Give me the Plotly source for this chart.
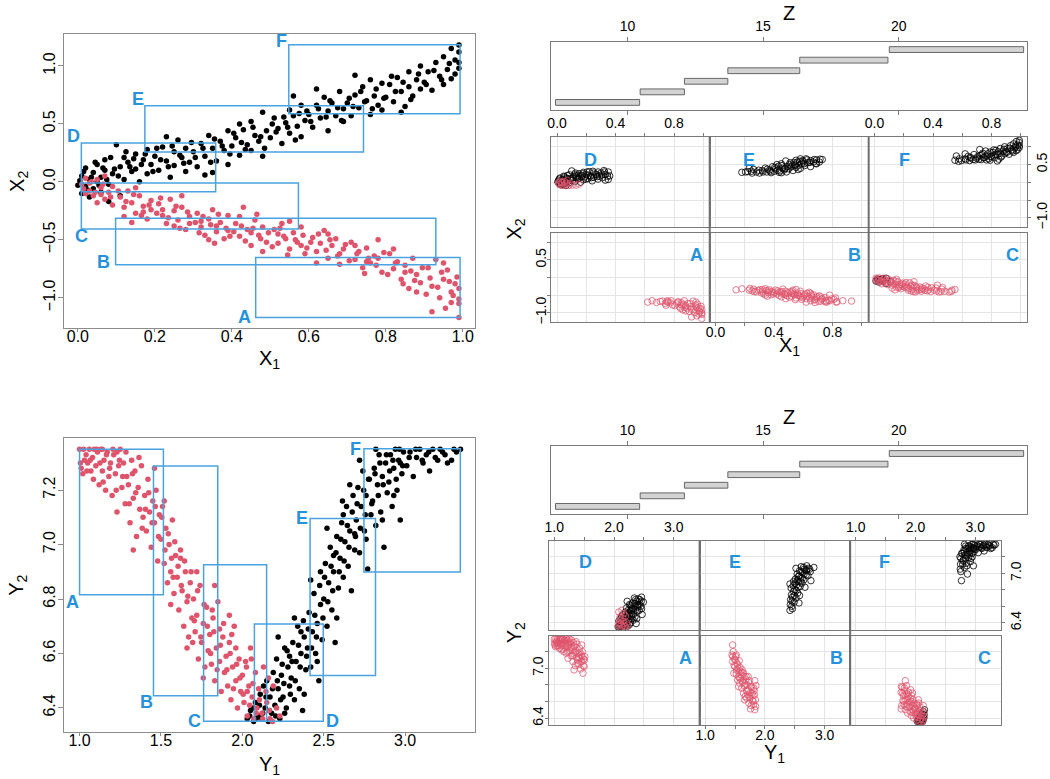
import plotly.graph_objects as go

# ---------------- data ----------------
x1_red = [0.01,0.02,0.03,0.04,0.05,0.06,0.07,0.08,0.09,0.02,0.05,0.07,0.09,0.03,0.06,
          0.11,0.12,0.13,0.14,0.15,0.16,0.17,0.18,0.19,0.12,0.15,0.17,0.19,0.14,
          0.21,0.22,0.23,0.24,0.25,0.26,0.27,0.28,0.29,0.22,0.25,0.27,0.29,
          0.31,0.32,0.33,0.34,0.35,0.36,0.37,0.38,0.39,0.32,0.34,0.36,0.39,
          0.41,0.42,0.43,0.44,0.45,0.46,0.47,0.48,0.49,0.42,0.45,0.48,
          0.51,0.52,0.53,0.54,0.55,0.56,0.57,0.58,0.59,0.52,0.55,0.58,
          0.61,0.62,0.63,0.64,0.65,0.66,0.67,0.68,0.69,0.62,0.65,0.68,
          0.71,0.72,0.73,0.74,0.75,0.76,0.77,0.78,0.79,0.72,0.75,0.78,
          0.81,0.82,0.83,0.84,0.85,0.86,0.87,0.88,0.89,0.82,0.85,0.88,
          0.91,0.92,0.93,0.94,0.95,0.96,0.97,0.98,0.99,0.92,0.95,0.97,0.99,0.99,
          0.015,0.035,0.045,0.065,0.085, 0.105,0.125,0.145,0.165,0.185,
          0.205,0.215,0.235,0.255,0.265, 0.285,0.305,0.315,0.325,0.345,
          0.355,0.365,0.385,0.395,0.405, 0.425,0.435,0.455,0.465,0.475,
          0.495,0.505,0.525,0.535,0.545, 0.565,0.585,0.595,0.605,0.625,
          0.645,0.655,0.675,0.695,0.705, 0.725,0.745,0.755,0.775,0.795,
          0.805,0.825,0.845,0.865,0.875, 0.895,0.905,0.915,0.935,0.945,
          0.955,0.965,0.975,0.985,0.990]
x2_red = [-0.02,0.03,-0.08,-0.12,0.02,-0.05,-0.15,-0.09,-0.04,-0.10,-0.18,0.05,-0.20,-0.01,-0.11,
          -0.13,-0.22,-0.08,-0.18,-0.27,-0.12,-0.21,-0.32,-0.16,-0.30,-0.05,-0.26,-0.24,-0.35,
          -0.19,-0.29,-0.36,-0.15,-0.25,-0.33,-0.22,-0.41,-0.30,-0.24,-0.38,-0.12,-0.36,
          -0.27,-0.39,-0.46,-0.32,-0.24,-0.43,-0.35,-0.49,-0.29,-0.34,-0.50,-0.38,-0.42,
          -0.36,-0.47,-0.22,-0.41,-0.55,-0.33,-0.46,-0.39,-0.52,-0.30,-0.44,-0.60,
          -0.41,-0.53,-0.36,-0.49,-0.58,-0.44,-0.52,-0.39,-0.62,-0.45,-0.34,-0.55,
          -0.48,-0.60,-0.53,-0.42,-0.66,-0.55,-0.49,-0.71,-0.58,-0.70,-0.45,-0.62,
          -0.52,-0.67,-0.60,-0.74,-0.57,-0.70,-0.64,-0.50,-0.78,-0.55,-0.69,-0.66,
          -0.62,-0.75,-0.69,-0.84,-0.72,-0.92,-0.66,-0.80,-0.87,-0.58,-0.78,-0.95,
          -0.74,-0.90,-0.67,-1.00,-0.84,-0.76,-0.95,-0.88,-1.05,-1.12,-0.70,-1.04,-1.17,-0.92,
          -0.06,0.00,-0.09,-0.02,-0.13, -0.08,-0.17,-0.11,-0.29,-0.20,
          -0.27,-0.14,-0.31,-0.21,-0.40, -0.26,-0.35,-0.44,-0.30,-0.37,
          -0.53,-0.28,-0.40,-0.47,-0.43, -0.38,-0.51,-0.40,-0.28,-0.49,
          -0.44,-0.56,-0.40,-0.47,-0.63, -0.50,-0.46,-0.57,-0.52,-0.45,
          -0.59,-0.50,-0.64,-0.54,-0.68, -0.62,-0.79,-0.66,-0.72,-0.61,
          -0.80,-0.70,-0.88,-0.77,-0.85, -0.74,-0.97,-0.83,-0.91,-0.78,
          -1.09,-0.86,-0.98,-0.82,-1.01]

x1_black = [0.00,0.01,0.01,0.02,0.02,0.03,0.03,0.04,0.04,0.05,0.05,0.06,0.06,0.07,0.07,0.08,0.09,0.08,
            0.10,0.11,0.12,0.12,0.13,0.14,0.15,0.15,0.16,0.17,0.18,0.18,0.19,0.11,
            0.20,0.21,0.22,0.23,0.24,0.25,0.25,0.26,0.27,0.28,0.28,0.29,0.23,
            0.30,0.31,0.32,0.33,0.34,0.35,0.35,0.36,0.37,0.38,0.39,0.39,0.33,
            0.40,0.41,0.42,0.43,0.44,0.45,0.45,0.46,0.47,0.48,0.48,0.49,0.42,
            0.50,0.51,0.52,0.53,0.54,0.55,0.55,0.56,0.57,0.58,0.58,0.59,0.56,
            0.60,0.61,0.62,0.63,0.64,0.65,0.65,0.66,0.67,0.68,0.69,0.69,0.62,
            0.70,0.71,0.72,0.73,0.74,0.75,0.76,0.76,0.77,0.78,0.79,0.79,0.72,
            0.80,0.81,0.82,0.83,0.84,0.85,0.86,0.86,0.87,0.88,0.89,0.89,0.84,
            0.90,0.91,0.92,0.93,0.94,0.95,0.95,0.96,0.97,0.98,0.98,0.99,0.99,0.99,0.99,0.97,
            0.005,0.015,0.025,0.035,0.045, 0.055,0.065,0.075,0.085,0.095,
            0.105,0.125,0.135,0.145,0.165, 0.175,0.195,0.205,0.215,0.235,
            0.245,0.265,0.275,0.295,0.305, 0.325,0.345,0.355,0.375,0.395,
            0.405,0.425,0.435,0.455,0.475, 0.485,0.505,0.515,0.535,0.545,
            0.565,0.575,0.595,0.605,0.625, 0.645,0.655,0.675,0.685,0.705,
            0.715,0.735,0.745,0.765,0.775, 0.795,0.815,0.825,0.845,0.865,
            0.885,0.905,0.925,0.945,0.965]
x2_black = [-0.03,0.05,-0.10,0.12,-0.04,0.02,-0.13,0.08,-0.06,0.15,0.00,0.04,-0.09,0.19,0.10,-0.02,0.07,-0.17,
            0.32,0.13,0.21,0.02,0.17,0.09,0.24,0.11,0.00,0.19,0.28,0.07,0.15,-0.12,
            0.22,0.10,0.30,0.18,0.04,0.26,0.14,0.36,0.21,0.09,0.29,0.17,0.39,
            0.26,0.13,0.33,0.22,0.40,0.29,0.08,0.18,0.35,0.27,0.44,0.15,0.06,
            0.31,0.38,0.23,0.45,0.32,0.52,0.27,0.40,0.35,0.60,0.22,0.44,0.50,
            0.38,0.55,0.46,0.33,0.51,0.62,0.42,0.57,0.48,0.66,0.39,0.53,0.74,
            0.58,0.47,0.66,0.55,0.73,0.61,0.44,0.68,0.57,0.78,0.63,0.52,0.80,
            0.68,0.57,0.75,0.64,0.82,0.70,0.58,0.88,0.74,0.66,0.85,0.62,0.92,
            0.73,0.84,0.69,0.90,0.78,0.65,0.95,0.82,0.74,0.88,0.80,1.00,0.60,
            0.86,0.95,0.79,1.03,0.91,0.84,1.08,0.97,0.89,1.05,0.93,1.12,0.98,1.18,1.03,1.15,
            0.01,0.09,-0.07,0.04,0.17, -0.03,0.12,0.02,0.21,0.11,
            0.05,0.26,0.13,0.20,0.15, 0.24,0.09,0.29,0.19,0.13,
            0.31,0.23,0.16,0.34,0.21, 0.29,0.17,0.37,0.31,0.24,
            0.42,0.34,0.28,0.47,0.39, 0.29,0.50,0.43,0.56,0.47,
            0.36,0.59,0.61,0.52,0.63, 0.56,0.70,0.64,0.53,0.72,
            0.65,0.78,0.69,0.63,0.80, 0.72,0.91,0.78,0.86,0.71,
            0.93,0.84,0.96,0.88,1.02]

y1_red = [1.00,1.01,1.02,1.04,1.05,1.06,1.07,1.08,1.09,1.03,
          1.10,1.11,1.12,1.13,1.14,1.15,1.16,1.17,1.18,1.19,1.14,
          1.20,1.21,1.22,1.23,1.24,1.25,1.26,1.27,1.28,1.29,1.23,
          1.30,1.31,1.32,1.33,1.34,1.35,1.36,1.37,1.38,1.39,1.33,
          1.40,1.41,1.42,1.43,1.44,1.45,1.46,1.47,1.48,1.49,1.46,
          1.50,1.51,1.52,1.53,1.54,1.55,1.56,1.57,1.58,1.59,1.52,1.56,
          1.60,1.61,1.62,1.63,1.64,1.65,1.66,1.67,1.68,1.69,1.62,1.66,
          1.70,1.71,1.72,1.73,1.74,1.75,1.76,1.77,1.78,1.79,1.72,1.76,
          1.80,1.81,1.82,1.83,1.84,1.85,1.86,1.87,1.88,1.89,1.83,1.86,
          1.90,1.91,1.92,1.93,1.94,1.95,1.96,1.97,1.98,1.99,1.92,1.96,
          2.00,2.01,2.02,2.03,2.04,2.05,2.06,2.07,2.08,2.09,2.03,
          2.10,2.12,2.13,2.15,2.17,2.19,2.21,2.23,2.16,
          1.005,1.025,1.045,1.065,1.085, 1.105,1.125,1.145,1.165,1.185,
          1.205,1.225,1.245,1.265,1.285, 1.305,1.325,1.345,1.365,1.385,
          1.405,1.425,1.445,1.465,1.485, 1.505,1.525,1.545,1.565,1.585,
          1.605,1.625,1.645,1.665,1.685, 1.705,1.725,1.745,1.765,1.785,
          1.805,1.825,1.845,1.865,1.885, 1.905,1.925,1.945,1.965,1.985,
          2.005,2.025,2.045,2.065,2.085, 2.105,2.125,2.145,2.165,2.185,
          1.575,1.695,1.815,1.935,2.055]
y2_red = [7.35,7.28,7.26,7.33,7.30,7.35,7.27,7.32,7.35,7.31,
          7.29,7.34,7.22,7.35,7.27,7.31,7.20,7.34,7.25,7.30,7.35,
          7.18,7.33,7.26,7.12,7.29,7.35,7.21,7.30,7.15,7.25,7.34,
          7.22,7.08,7.31,7.17,7.27,7.03,7.21,7.13,7.29,7.10,6.98,
          7.18,7.05,7.24,7.12,6.99,7.16,7.08,7.20,6.94,7.11,7.28,
          7.02,7.14,6.93,7.06,6.86,7.00,6.90,7.09,6.82,6.96,7.16,6.78,
          6.88,6.76,6.95,6.83,6.70,6.90,6.79,6.66,6.86,6.73,6.98,6.62,
          6.80,6.68,6.74,6.58,6.85,6.64,6.71,6.55,6.77,6.61,6.90,6.51,
          6.67,6.56,6.73,6.50,6.62,6.79,6.57,6.46,6.66,6.53,6.85,6.69,
          6.59,6.48,6.64,6.43,6.55,6.70,6.50,6.40,6.58,6.46,6.74,6.62,
          6.52,6.42,6.57,6.37,6.48,6.62,6.44,6.36,6.53,6.40,6.46,
          6.47,6.38,6.55,6.42,6.36,6.48,6.40,6.37,6.51,
          7.30,7.35,7.27,7.31,7.24, 7.35,7.30,7.23,7.33,7.28,
          7.35,7.20,7.31,7.25,7.34, 7.15,7.26,7.19,7.32,7.06,
          7.13,7.19,7.08,7.14,7.03, 7.10,6.98,7.04,6.95,7.01,
          6.92,6.85,6.94,6.81,6.90, 6.72,6.83,6.66,6.78,6.70,
          6.60,6.68,6.54,6.63,6.71, 6.54,6.60,6.47,6.56,6.51,
          6.45,6.55,6.41,6.49,6.38, 6.43,6.36,6.46,6.39,6.35,
          6.88,6.64,6.76,6.67,6.58]

y1_black = [2.03,2.05,2.07,2.08,2.10,2.11,2.12,2.14,2.15,2.16,2.17,2.18,2.19,2.13,
            2.20,2.21,2.22,2.23,2.24,2.25,2.26,2.27,2.28,2.29,2.22,2.26,2.29,
            2.30,2.31,2.32,2.33,2.34,2.35,2.36,2.37,2.38,2.39,2.32,2.36,2.38,
            2.40,2.41,2.42,2.43,2.44,2.45,2.46,2.47,2.48,2.49,2.42,2.46,2.48,
            2.50,2.51,2.52,2.53,2.54,2.55,2.56,2.57,2.58,2.59,2.52,2.56,2.58,
            2.60,2.61,2.62,2.63,2.64,2.65,2.66,2.67,2.68,2.69,2.62,2.66,2.69,
            2.70,2.71,2.72,2.73,2.74,2.75,2.76,2.77,2.78,2.79,2.72,2.76,
            2.80,2.81,2.82,2.83,2.84,2.85,2.86,2.87,2.88,2.89,2.82,2.86,
            2.90,2.91,2.92,2.93,2.94,2.95,2.96,2.97,2.98,2.99,2.93,2.97,
            3.01,3.03,3.05,3.07,3.09,3.11,3.13,3.15,3.17,3.20,3.23,3.26,3.30,3.34,
            2.045,2.065,2.085,2.105,2.125, 2.145,2.165,2.185,2.205,2.215,
            2.235,2.245,2.255,2.275,2.295, 2.305,2.325,2.345,2.355,2.375,
            2.395,2.405,2.425,2.445,2.455, 2.475,2.495,2.505,2.525,2.545,
            2.555,2.575,2.595,2.605,2.625, 2.645,2.655,2.675,2.695,2.705,
            2.725,2.745,2.755,2.775,2.795, 2.815,2.835,2.845,2.865,2.885,
            2.905,2.925,2.945,2.965,2.985, 3.025,3.065,3.105,3.145,3.185,
            3.215,3.245,3.285,3.315,2.615]
y2_black = [6.36,6.39,6.35,6.42,6.37,6.45,6.36,6.40,6.50,6.35,6.44,6.38,6.53,6.48,
            6.41,6.58,6.47,6.36,6.52,6.44,6.62,6.40,6.55,6.48,6.66,6.38,6.59,
            6.51,6.64,6.43,6.57,6.70,6.47,6.60,6.39,6.66,6.54,6.73,6.68,6.45,
            6.62,6.75,6.55,6.68,6.82,6.60,6.71,6.50,6.78,6.65,6.87,6.57,6.90,
            6.80,6.93,6.70,6.86,6.99,6.76,6.90,6.64,7.03,6.84,7.06,6.96,6.73,
            6.95,7.08,6.88,7.01,7.14,6.92,7.05,6.83,7.18,6.98,7.11,7.22,7.04,
            7.09,7.21,6.97,7.14,7.27,7.05,7.18,6.91,7.24,7.11,7.31,7.02,
            7.16,7.28,7.07,7.22,7.33,7.12,7.25,6.99,7.30,7.19,7.35,7.09,
            7.23,7.33,7.14,7.28,7.35,7.20,7.31,7.09,7.26,7.34,7.18,7.30,
            7.29,7.34,7.25,7.32,7.35,7.30,7.33,7.27,7.35,7.31,7.34,7.30,7.35,7.35,
            6.37,6.40,6.36,6.41,6.38, 6.44,6.39,6.47,6.37,6.50,
            6.43,6.56,6.49,6.61,6.45, 6.57,6.50,6.63,6.55,6.72,
            6.59,6.69,6.62,6.74,6.66, 6.85,6.73,6.88,6.79,6.92,
            6.83,6.97,6.90,7.02,6.94, 7.07,6.99,7.12,7.03,7.15,
            7.06,7.20,7.11,7.24,7.15, 7.26,7.18,7.30,7.22,7.33,
            7.27,7.31,7.24,7.35,7.29, 7.32,7.35,7.31,7.34,7.32,
            7.35,7.33,7.31,7.34,7.16]

shingle_labels = ["A", "B", "C", "D", "E", "F"]
z_lo = [7.35, 10.47, 12.10, 13.70, 16.35, 19.65]
z_hi = [10.45, 12.10, 13.70, 16.35, 19.60, 24.60]

# ranges of each shingle's points (boxes)
xbox_x1_lo = [0.462, 0.098, 0.009, 0.009, 0.174, 0.548]
xbox_x1_hi = [0.993, 0.930, 0.573, 0.358, 0.742, 0.993]
xbox_x2_lo = [-1.170, -0.715, -0.406, -0.086, 0.258, 0.587]
xbox_x2_hi = [-0.652, -0.314, -0.011, 0.335, 0.656, 1.182]
ybox_y1_lo = [1.000, 1.454, 1.762, 2.074, 2.416, 2.747]
ybox_y1_hi = [1.515, 1.849, 2.149, 2.497, 2.818, 3.339]
ybox_y2_lo = [6.816, 6.445, 6.351, 6.351, 6.519, 6.899]
ybox_y2_hi = [7.350, 7.289, 6.926, 6.708, 7.096, 7.352]

x1_ticks = [0.0, 0.2, 0.4, 0.6, 0.8, 1.0]
x2_ticks = [-1.0, -0.5, 0.0, 0.5, 1.0]
y1_ticks = [1.0, 1.5, 2.0, 2.5, 3.0]
y2_ticks = [6.4, 6.6, 6.8, 7.0, 7.2]
z_ticks = [10, 15, 20]
x1_panel_labels = [0.0, 0.4, 0.8]
x2_panel_labels = [-1.0, 0.5]
y1_panel_labels = [1.0, 2.0, 3.0]
y2_panel_labels = [6.4, 7.0]

# ---------------- styling / layout ----------------
W, H = 1050, 779
FONT = "Liberation Sans, Arial, Helvetica, sans-serif"
RED = "#DF536B"
BLUE = "#2592DC"
BOXC = "#4AA3E0"
FRAME = "#8c8c8c"
PFRAME = "#7a7a7a"
GRID = "#e4e4e4"

def fmt(v):
    return f"{v:.1f}".replace("-", "\u2212")

fig = go.Figure()
L = dict(width=W, height=H, margin=dict(l=0, r=0, t=0, b=0),
         paper_bgcolor="white", plot_bgcolor="white", showlegend=False,
         font=dict(family=FONT, color="black"))
shapes, annos = [], []
n_ax = [0]

def add_axes(px0, px1, py0, py1, xr, yr, xo, yo):
    n_ax[0] += 1
    s = "" if n_ax[0] == 1 else str(n_ax[0])
    L["xaxis" + s] = dict(domain=[px0 / W, px1 / W], range=xr, anchor="y" + s, fixedrange=True, **xo)
    L["yaxis" + s] = dict(domain=[1 - py1 / H, 1 - py0 / H], range=yr, anchor="x" + s, fixedrange=True, **yo)
    return "x" + s, "y" + s

def main_axis(vals, angle=0, standoff=0, tlen=5):
    return dict(tickvals=vals, ticktext=[fmt(v) for v in vals], ticks="outside", ticklen=tlen,
                tickcolor=FRAME, showline=True, linecolor=FRAME, linewidth=1, mirror=True,
                showgrid=False, zeroline=False, tickfont=dict(size=16), tickangle=angle,
                ticklabelstandoff=standoff)

def panel_axis(grid_vals, label_vals, side=None, angle=0, standoff=0):
    d = dict(showgrid=True, gridcolor=GRID, gridwidth=1,
             zeroline=False, showline=True, linecolor=PFRAME, linewidth=1, mirror=True,
             tickfont=dict(size=14), tickangle=angle)
    if side:
        minor_vals = [v for v in grid_vals if all(abs(v - m) > 1e-9 for m in label_vals)]
        d.update(side=side, tickvals=label_vals, ticktext=[fmt(v) for v in label_vals],
                 ticks="outside", ticklen=3, tickcolor=PFRAME, showticklabels=True,
                 ticklabelstandoff=standoff,
                 minor=dict(tickmode="array", tickvals=minor_vals, ticks="outside", ticklen=3,
                            tickcolor=PFRAME, showgrid=True, gridcolor=GRID, gridwidth=1))
    else:
        d.update(tickvals=grid_vals, ticks="", showticklabels=False)
    return d

def title(x, y, text, angle=0, size=20):
    annos.append(dict(x=x / W, y=1 - y / H, xref="paper", yref="paper", text=text, showarrow=False,
                      textangle=angle, font=dict(size=size, family=FONT, color="black"),
                      xanchor="center", yanchor="middle"))

def letter(xref, yref, x, y, text, dx, dy, size=18):
    annos.append(dict(x=x, y=y, xref=xref, yref=yref, text="<b>%s</b>" % text, showarrow=False,
                      xshift=dx, yshift=dy, font=dict(size=size, family=FONT, color=BLUE),
                      xanchor="center", yanchor="middle"))

def in_box(xs, ys, x0, x1, y0, y1, eps=0.004):
    px, py = [], []
    for a, b in zip(xs, ys):
        if x0 - eps <= a <= x1 + eps and y0 - eps <= b <= y1 + eps:
            px.append(a); py.append(b)
    return px, py

def main_scatter(px0, px1, py0, py1, xr, yr, xt, yt, xs_r, ys_r, xs_b, ys_b, boxes, offs, corners):
    xa, ya = add_axes(px0, px1, py0, py1, xr, yr,
                      main_axis(xt, 0, -9, 3), main_axis(yt, -90, -3, 5))
    fig.add_trace(go.Scatter(x=xs_b, y=ys_b, mode="markers", xaxis=xa, yaxis=ya,
                             marker=dict(size=5.5, color="black", line=dict(width=0))))
    fig.add_trace(go.Scatter(x=xs_r, y=ys_r, mode="markers", xaxis=xa, yaxis=ya,
                             marker=dict(size=5.5, color=RED, line=dict(width=0))))
    for i, lab in enumerate(shingle_labels):
        bx0, bx1, by0, by1 = boxes[0][i], boxes[1][i], boxes[2][i], boxes[3][i]
        shapes.append(dict(type="rect", xref=xa, yref=ya, x0=bx0, x1=bx1, y0=by0, y1=by1,
                           line=dict(color=BOXC, width=1.5), fillcolor="rgba(0,0,0,0)"))
        cx = bx0 if corners[i][0] == "l" else bx1
        cy = by0 if corners[i][1] == "b" else by1
        letter(xa, ya, cx, cy, lab, offs[i][0], offs[i][1])
    return xa, ya

# ---- top-left: X1 vs X2 ----
main_scatter(61, 476, 34, 329, [-0.035, 1.033], [-1.262, 1.276], x1_ticks, x2_ticks,
             x1_red, x2_red, x1_black, x2_black,
             (xbox_x1_lo, xbox_x1_hi, xbox_x2_lo, xbox_x2_hi),
             [(-11, 0), (-12, 3), (0, -7), (-8, 7), (-7, 7), (-7, 4)],
             ["lb", "lb", "lb", "lt", "lt", "lt"])
title(268.5, 360, "X<sub>1</sub>")
title(14, 181.5, "X<sub>2</sub>", -90)

# ---- bottom-left: Y1 vs Y2 ----
main_scatter(61, 476, 439, 734, [0.907, 3.432], [6.311, 7.392], y1_ticks, y2_ticks,
             y1_red, y2_red, y1_black, y2_black,
             (ybox_y1_lo, ybox_y1_hi, ybox_y2_lo, ybox_y2_hi),
             [(-7, -7), (-7, -6), (-9, 0), (9, 0), (-8, 0), (-8, 0)],
             ["lb", "lb", "lb", "rb", "lt", "lt"])
title(268.5, 767, "Y<sub>1</sub>")
title(14, 586.5, "Y<sub>2</sub>", -90)

# ---- shingle (Z) panels ----
def z_panel(py0, py1, title_y):
    zx = dict(tickvals=z_ticks, ticktext=[str(v) for v in z_ticks], side="top", ticks="outside",
              ticklen=4, tickcolor=PFRAME, showline=True, linecolor=PFRAME, linewidth=1,
              mirror="ticks", showgrid=False, zeroline=False, tickfont=dict(size=14))
    zy = dict(showticklabels=False, ticks="", showline=True, linecolor=PFRAME, linewidth=1,
              mirror=True, showgrid=False, zeroline=False)
    xa, ya = add_axes(552.7, 1033, py0, py1, [7.2, 24.73], [0.245, 6.755], zx, zy)
    fig.add_trace(go.Bar(x=[h - l for l, h in zip(z_lo, z_hi)], base=z_lo,
                         y=list(range(1, len(z_lo) + 1)), orientation="h", width=0.55,
                         xaxis=xa, yaxis=ya,
                         marker=dict(color="#d3d3d3", line=dict(color="#666666", width=1))))
    title(793, title_y, "Z")

z_panel(41.7, 110.7, 13)
z_panel(446.7, 515.7, 418)

# ---- coplots ----
def coplot(col_left, col_w, row_top, row_bot, xr, yr, xgrid, xlab, ygrid, ylab,
           xs_r, ys_r, xs_b, ys_b, boxes, letter_pos):
    for i, lab in enumerate(shingle_labels):
        r = 1 if i < 3 else 0          # 1 = bottom row (A,B,C), 0 = top row (D,E,F)
        c = i % 3
        px0 = col_left[c]; px1 = px0 + col_w
        py0, py1 = row_top[r], row_bot[r]
        xside, xso = None, 0
        if r == 0 and c in (0, 2):
            xside, xso = "top", -1
        if r == 1 and c == 1:
            xside, xso = "bottom", -6
        yside, yso = None, 0
        if r == 1 and c == 0:
            yside, yso = "left", -4
        if r == 0 and c == 2:
            yside, yso = "right", -1
        xa, ya = add_axes(px0, px1, py0, py1, xr, yr,
                          panel_axis(xgrid, xlab, xside, 0, xso),
                          panel_axis(ygrid, ylab, yside, -90, yso))
        bx = (boxes[0][i], boxes[1][i], boxes[2][i], boxes[3][i])
        bxs, bys = in_box(xs_b, ys_b, *bx)
        rxs, rys = in_box(xs_r, ys_r, *bx)
        fig.add_trace(go.Scatter(x=bxs, y=bys, mode="markers", xaxis=xa, yaxis=ya,
                                 marker=dict(symbol="circle-open", size=6.5, color="rgba(0,0,0,0.8)",
                                             line=dict(width=1))))
        fig.add_trace(go.Scatter(x=rxs, y=rys, mode="markers", xaxis=xa, yaxis=ya,
                                 marker=dict(symbol="circle-open", size=6.5, color="rgba(223,83,107,0.75)",
                                             line=dict(width=1))))
        lx, ly = letter_pos[i]
        annos.append(dict(x=(px0 + lx) / W, y=1 - (py0 + ly) / H, xref="paper", yref="paper",
                          text="<b>%s</b>" % lab, showarrow=False,
                          font=dict(size=18, family=FONT, color=BLUE),
                          xanchor="center", yanchor="middle"))
    for c in (1, 2):
        xs = col_left[c]
        shapes.append(dict(type="line", xref="paper", yref="paper", x0=xs / W, x1=xs / W,
                           y0=1 - row_top[0] / H, y1=1 - row_bot[1] / H,
                           line=dict(color="#6e6e6e", width=2)))
    return (col_left[0] + col_left[2] + col_w) / 2

cx1 = coplot([552.5, 712.5, 873.0], 160, [137.3, 233.3], [227.7, 322.7],
             [-0.04, 1.044], [-1.262, 1.276],
             x1_ticks, x1_panel_labels, x2_ticks, x2_panel_labels,
             x1_red, x2_red, x1_black, x2_black,
             (xbox_x1_lo, xbox_x1_hi, xbox_x2_lo, xbox_x2_hi),
             [(146.5, 22.7), (146.0, 22.7), (145.0, 22.7), (39.4, 22.7), (39.4, 22.7), (36.0, 22.7)])
title(cx1, 347, "X<sub>1</sub>")
title(516, 230, "X<sub>2</sub>", -90)

cx2 = coplot([550.0, 702.3, 854.3], 152.3, [542.3, 637.3], [631.7, 727.3],
             [0.907, 3.432], [6.311, 7.392],
             y1_ticks, y1_panel_labels, y2_ticks, y2_panel_labels,
             y1_red, y2_red, y1_black, y2_black,
             (ybox_y1_lo, ybox_y1_hi, ybox_y2_lo, ybox_y2_hi),
             [(138.3, 22.7), (137.7, 22.7), (135.7, 22.7), (37.3, 21.0), (36.0, 21.0), (35.0, 21.0)])
title(cx2, 755, "Y<sub>1</sub>")
title(516, 634.8, "Y<sub>2</sub>", -90)

L["shapes"] = shapes
L["annotations"] = annos
fig.update_layout(**L)
fig.write_html("out.html", config={"staticPlot": True},
               post_script="document.body.style.margin='0';document.body.style.overflow='hidden';")
